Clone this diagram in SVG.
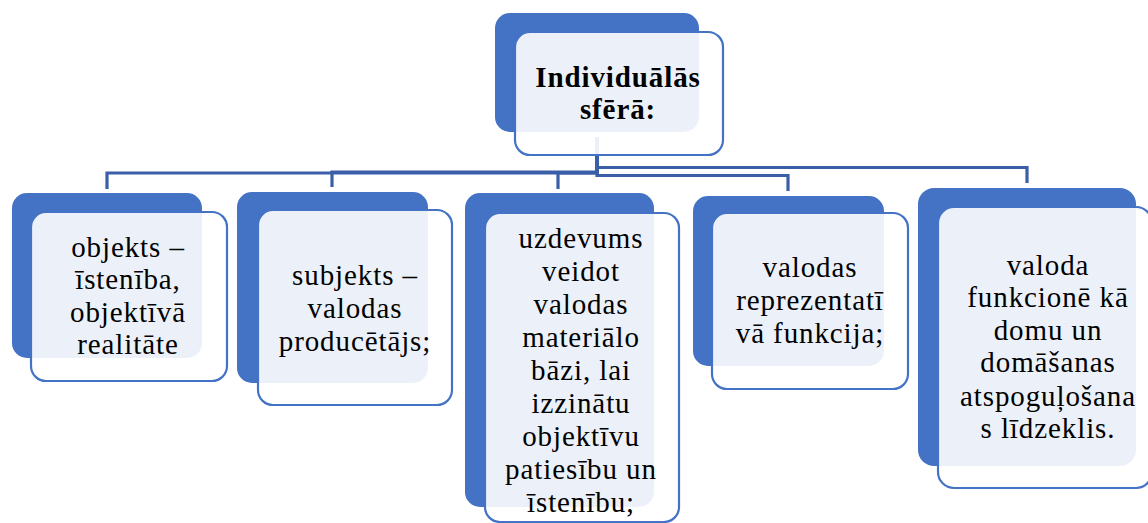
<svg xmlns="http://www.w3.org/2000/svg" width="1148" height="523" viewBox="0 0 1148 523">
<style>
.back{fill:#4472C4;}
.front{fill:#FFFFFF;fill-opacity:0.9;stroke:#4472C4;stroke-width:2.2;}
.conn{fill:none;stroke:#3A5FA8;stroke-width:3.2;}
.t{font-family:'Liberation Serif','Times New Roman','DejaVu Serif',serif;font-size:29px;letter-spacing:0.9px;fill:#000;text-anchor:middle;}
.b{font-weight:bold;}
</style>
<rect width="1148" height="523" fill="#FFFFFF"/>
<g id="connectors">
<path class="conn" d="M597,137 V173 H107 V189"/>
<path class="conn" d="M597,137 V172 H332 V187"/>
<path class="conn" d="M597,137 V173 H558 V189"/>
<path class="conn" d="M597,137 V175.5 H788 V191"/>
<path class="conn" d="M597,137 V167.5 H1027 V183"/>
</g>
<g id="node-root">
<rect class="back" x="495" y="13" width="204" height="119" rx="15"/>
<rect class="front" x="515" y="32" width="208" height="123" rx="15"/>
<text class="t b" x="618" y="87" font-family="Liberation Serif, Times New Roman, DejaVu Serif, serif">Individuālās</text>
<text class="t b" x="618" y="119" font-family="Liberation Serif, Times New Roman, DejaVu Serif, serif">sfērā:</text>
</g>
<g id="node-1" font-family="Liberation Serif, Times New Roman, DejaVu Serif, serif">
<rect class="back" x="12" y="193" width="190" height="165" rx="15"/>
<rect class="front" x="31" y="212" width="196" height="169" rx="15"/>
<text class="t" x="128" y="257">objekts –</text>
<text class="t" x="128" y="289">īstenība,</text>
<text class="t" x="128" y="322">objektīvā</text>
<text class="t" x="128" y="354">realitāte</text>
</g>
<g id="node-2">
<rect class="back" x="237" y="192" width="191" height="191" rx="15"/>
<rect class="front" x="258" y="210" width="194" height="195" rx="15"/>
<text class="t" x="355" y="285">subjekts –</text>
<text class="t" x="355" y="318">valodas</text>
<text class="t" x="355" y="351">producētājs;</text>
</g>
<g id="node-3">
<rect class="back" x="465" y="193" width="189" height="314" rx="15"/>
<rect class="front" x="485" y="213" width="194" height="309" rx="15"/>
<text class="t" x="581" y="248">uzdevums</text>
<text class="t" x="581" y="281">veidot</text>
<text class="t" x="581" y="314">valodas</text>
<text class="t" x="581" y="347">materiālo</text>
<text class="t" x="581" y="380">bāzi, lai</text>
<text class="t" x="581" y="413">izzinātu</text>
<text class="t" x="581" y="446">objektīvu</text>
<text class="t" x="581" y="479">patiesību un</text>
<text class="t" x="581" y="512">īstenību;</text>
</g>
<g id="node-4">
<rect class="back" x="693" y="196" width="191" height="170" rx="15"/>
<rect class="front" x="712" y="213" width="196" height="176" rx="15"/>
<text class="t" x="810" y="277">valodas</text>
<text class="t" x="810" y="310">reprezentatī</text>
<text class="t" x="810" y="343">vā funkcija;</text>
</g>
<g id="node-5">
<rect class="back" x="918" y="188" width="218" height="278" rx="16"/>
<rect class="front" x="938" y="207" width="214" height="281" rx="16"/>
<text class="t" x="1048" y="275">valoda</text>
<text class="t" x="1048" y="307">funkcionē kā</text>
<text class="t" x="1048" y="340">domu un</text>
<text class="t" x="1048" y="372">domāšanas</text>
<text class="t" x="1048" y="406">atspoguļošana</text>
<text class="t" x="1048" y="438">s līdzeklis.</text>
</g>
</svg>
